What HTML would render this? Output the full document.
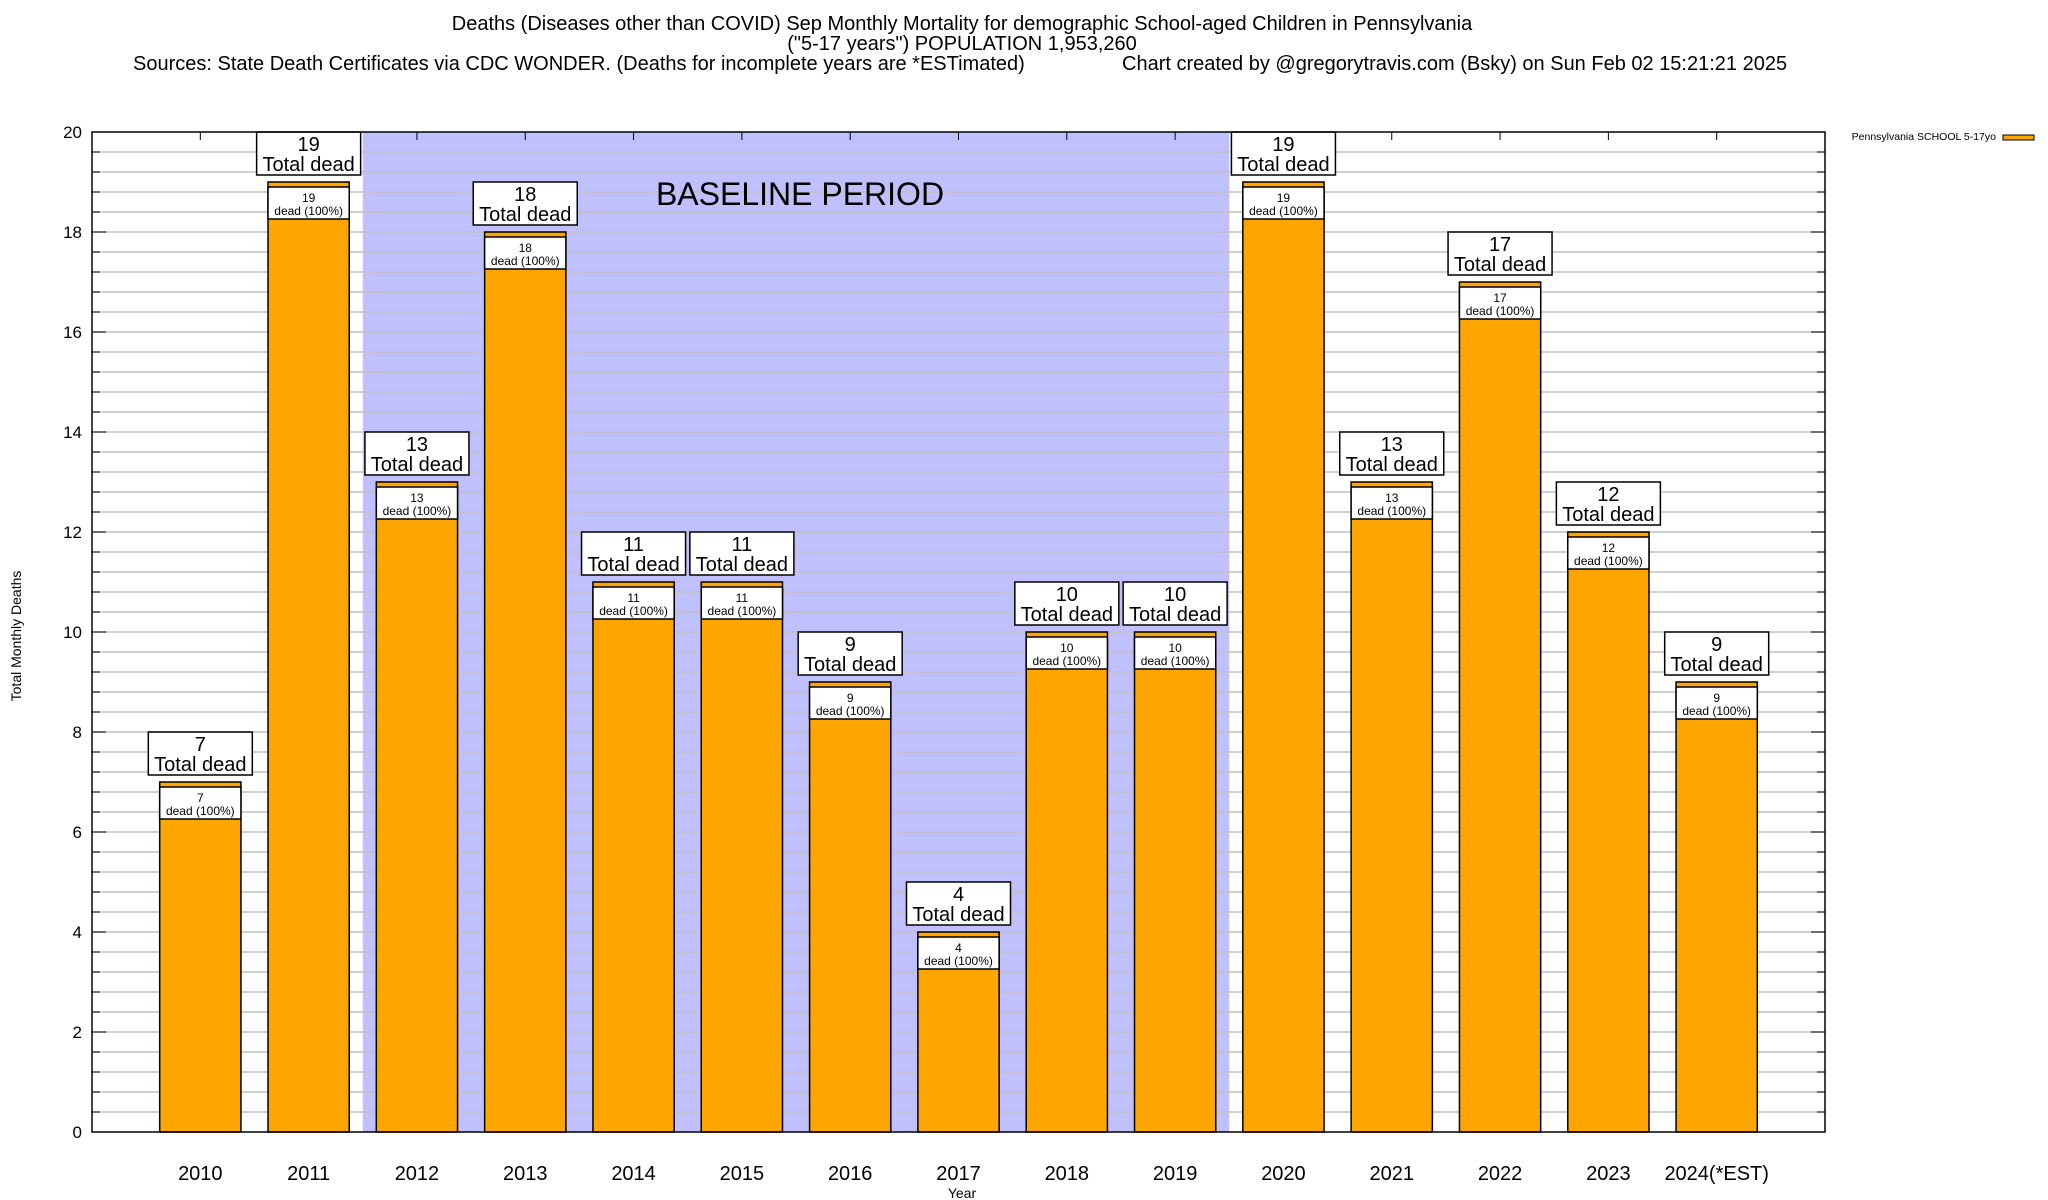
<!DOCTYPE html>
<html><head><meta charset="utf-8"><style>
html,body{margin:0;padding:0;background:#fff;}
svg{display:block;font-family:"Liberation Sans",Arial,sans-serif;}
</style></head><body>
<svg id="chart" width="2048" height="1200" viewBox="0 0 2048 1200" xmlns="http://www.w3.org/2000/svg">
<text x="962" y="30" font-size="20" text-anchor="middle">Deaths (Diseases other than COVID) Sep Monthly Mortality for demographic School-aged Children in Pennsylvania</text>
<text x="962" y="50" font-size="20" text-anchor="middle">("5-17 years") POPULATION 1,953,260</text>
<text x="133" y="70" font-size="20">Sources: State Death Certificates via CDC WONDER. (Deaths for incomplete years are *ESTimated)</text>
<text x="1122" y="70" font-size="20">Chart created by @gregorytravis.com (Bsky) on Sun Feb 02 15:21:21 2025</text>
<text transform="translate(21,636) rotate(-90)" font-size="14" text-anchor="middle">Total Monthly Deaths</text>
<text x="962" y="1198" font-size="14" text-anchor="middle">Year</text>
<g>
<text x="1996" y="140" font-size="10.5" text-anchor="end">Pennsylvania SCHOOL 5-17yo</text>
<rect x="2003" y="135" width="31" height="5" fill="#ffa500" stroke="#000" stroke-width="1"/>
</g>
<g id="plot"></g>
</svg>
<script>
const categories = ["2010","2011","2012","2013","2014","2015","2016","2017","2018","2019","2020","2021","2022","2023","2024(*EST)"];
const deaths = [7,19,13,18,11,11,9,4,10,10,19,13,17,12,9];
const yTicks = [0,2,4,6,8,10,12,14,16,18,20];
const baselineStart = 2, baselineEnd = 9;

const L=92,R=1825,T=132,B=1132;
const yMax=20, xMin=-1, xMax=15;
const sy=v=>B-(v/yMax)*(B-T);
const sx=i=>L+(i-xMin)/(xMax-xMin)*(R-L);
const unit=(R-L)/(xMax-xMin);
const NS="http://www.w3.org/2000/svg";
const g=document.getElementById('plot');
function mk(tag,attrs,parent){const e=document.createElementNS(NS,tag);for(const k in attrs)e.setAttribute(k,attrs[k]);(parent||g).appendChild(e);return e;}

const sh=mk('rect',{x:sx(baselineStart-0.5),y:T,width:sx(baselineEnd+0.5)-sx(baselineStart-0.5),height:B-T,fill:'#c0c0ff'});


for(let v=0.4;v<yMax-0.01;v+=0.4){
  const gl=mk('line',{x1:L,x2:R,y1:sy(v),y2:sy(v),stroke:'#c0c0c0','stroke-width':1.5});
  
  
  for(const [a,b] of [[L,L+8],[R-8,R]]){const tk=mk('line',{x1:a,x2:b,y1:sy(v),y2:sy(v),stroke:'#000'});
  
  }
}
const bt=mk('text',{x:800,y:205,'font-size':32,'text-anchor':'middle'});
bt.textContent='BASELINE PERIOD';


yTicks.forEach(v=>{
  const t=mk('text',{x:82,y:sy(v)+6,'font-size':17,'text-anchor':'end'});t.textContent=v;
  
  
  for(const [a,b] of [[L,L+14],[R-14,R]]){const tk=mk('line',{x1:a,x2:b,y1:sy(v),y2:sy(v),stroke:'#000'});
  
  }
});
const bw=unit*0.75;
categories.forEach((c,i)=>{
  const cx=sx(i),v=deaths[i],top=sy(v);
  const tk=mk('line',{x1:cx,x2:cx,y1:T,y2:T+8,stroke:'#000'});
  
  
  const bar=mk('rect',{x:cx-bw/2,y:top,width:bw,height:B-top,fill:'#ffa500',stroke:'#000','stroke-width':1.5});
  
  
  const ib=mk('rect',{x:cx-bw/2,y:top+5,width:bw,height:32,fill:'#fff',stroke:'#000','stroke-width':1.5});
  
  
  const t1=mk('text',{x:cx,y:top+20,'font-size':12,'text-anchor':'middle'});t1.textContent=v;
  
  
  const t2=mk('text',{x:cx,y:top+33,'font-size':12,'text-anchor':'middle'});t2.textContent='dead (100%)';
  
  
  const ob=mk('rect',{x:cx-52,y:top-50,width:104,height:43,fill:'#fff',stroke:'#000','stroke-width':1.5});
  
  
  const t3=mk('text',{x:cx,y:top-31,'font-size':20,'text-anchor':'middle'});t3.textContent=v;
  
  
  const t4=mk('text',{x:cx,y:top-11,'font-size':20,'text-anchor':'middle'});t4.textContent='Total dead';
  
  
  const xl=mk('text',{x:cx,y:1180,'font-size':20,'text-anchor':'middle'});xl.textContent=c;
  
  
});
const fr=mk('rect',{x:L,y:T,width:R-L,height:B-T,fill:'none',stroke:'#000','stroke-width':1.5});


</script>
</body></html>
